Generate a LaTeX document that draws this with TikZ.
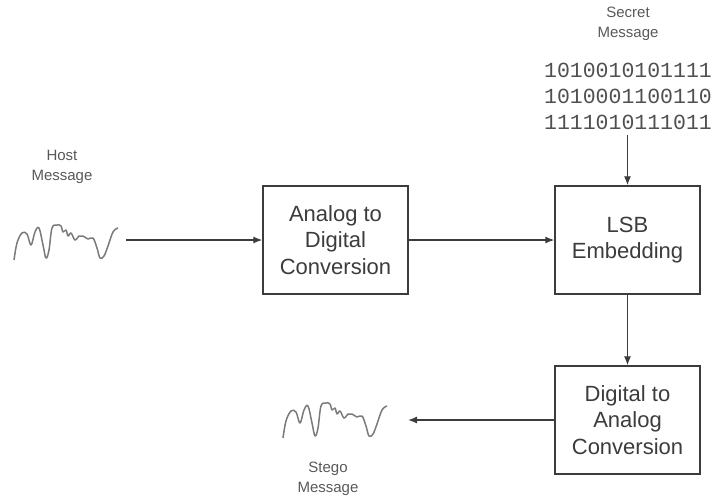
\documentclass[tikz,border=0pt]{standalone}
\usepackage{fontspec}
\setmainfont{Liberation Sans}
\newfontfamily\bitsfont{Liberation Mono}
\usepackage{tikz}
\usetikzlibrary{arrows.meta}

\definecolor{inkgray}{HTML}{3C3C3C}
\definecolor{wavegray}{HTML}{7A7A7A}

\begin{document}
\begin{tikzpicture}[x=1pt,y=-1pt,
  blockbox/.style={draw=inkgray,line width=1.4pt,minimum width=145pt,minimum height=108pt,
    align=center,text=inkgray,font=\fontsize{22}{26.5}\selectfont},
  lbl/.style={align=center,text=inkgray!85,font=\fontsize{15}{19.5}\selectfont},
  bits/.style={align=left,text=inkgray!90,font=\bitsfont\fontsize{21.5}{26}\selectfont},
  wave/.style={wavegray,line width=1.5pt,line join=round},
  link/.style={-{Latex[length=9pt,width=7pt]},inkgray,line width=1.3pt}]
\useasboundingbox (0,0) rectangle (714,499);
\node[lbl] (hostlbl) at (62,167) {Host\\Message};
\node[lbl] (secretlbl) at (628,24) {Secret\\Message};
\node[bits] (secret) at (628,96) {1010010101111\\1010001100110\\1111010111011};
\node[blockbox] (adc) at (335.5,240) {Analog to\\Digital\\Conversion};
\node[blockbox] (lsb) at (627.5,240) {LSB\\Embedding};
\node[blockbox] (dac) at (627.5,420) {Digital to\\Analog\\Conversion};
\node[lbl] (stegolbl) at (328,479) {Stego\\Message};
\draw[wave] plot[smooth,tension=0.6] coordinates {(14,260) (17,243) (22,233) (27,234) (31,245)
  (35,232) (39,228) (43,245) (46,258) (49,250) (52,228) (57,225) (61,226) (63,232) (66,230)
  (68,236) (71,233) (75,240) (79,236) (83,236) (88,239) (93,238) (97,248) (100,258)
  (104,256) (108,246) (113,232) (118,228)};
\begin{scope}[shift={(269,178)}]
\draw[wave] plot[smooth,tension=0.6] coordinates {(14,260) (17,243) (22,233) (27,234) (31,245)
  (35,232) (39,228) (43,245) (46,258) (49,250) (52,228) (57,225) (61,226) (63,232) (66,230)
  (68,236) (71,233) (75,240) (79,236) (83,236) (88,239) (93,238) (97,248) (100,258)
  (104,256) (108,246) (113,232) (118,228)};
\end{scope}
\coordinate (hostend) at (126,240);
\coordinate (stegoend) at (408,420);
\draw[link] (hostend) -- (adc);
\draw[link] (adc) -- (lsb);
\draw[link] (secret.south -| lsb.north) ++(0,2) -- (lsb);
\draw[link] (lsb) -- (dac);
\draw[link] (dac) -- (stegoend);
\end{tikzpicture}
\end{document}
